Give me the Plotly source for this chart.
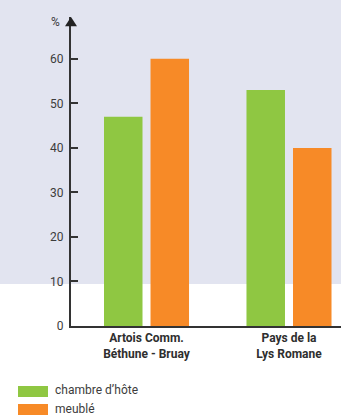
import plotly.graph_objects as go

# Data
categories = ["Artois Comm.<br>Béthune - Bruay", "Pays de la<br>Lys Romane"]
series_names = ["chambre d’hôte", "meublé"]
chambre_hote = [47, 53]
meuble = [60, 40]
y_ticks = [0, 10, 20, 30, 40, 50, 60]

GREEN = "#8fc742"
ORANGE = "#f78a27"
BAND = "#e2e4f0"
AXIS = "#333333"
TEXT = "#3c3c3c"
FONT = "Roboto"

W, H = 341, 415
M_L, M_R, M_T, M_B = 71, 0, 17, 89
PW, PH = W - M_L - M_R, H - M_T - M_B
Y_MAX = 69.4


def px_x(px):
    return (px - M_L) / PW


def px_y(px):
    return (H - M_B - px) / PH


fig = go.Figure()
fig.add_trace(go.Bar(x=categories, y=chambre_hote, name=series_names[0],
                     marker=dict(color=GREEN, line=dict(width=0))))
fig.add_trace(go.Bar(x=categories, y=meuble, name=series_names[1],
                     marker=dict(color=ORANGE, line=dict(width=0))))

shapes = [
    # light band behind the upper part of the chart
    dict(type="rect", xref="paper", yref="paper", layer="below",
         x0=px_x(0), x1=px_x(W), y0=px_y(284), y1=px_y(0),
         fillcolor=BAND, line=dict(width=0)),
    # arrow head on top of the value axis
    dict(type="path", xref="paper", yref="y", layer="above",
         path=f"M {px_x(65)} 67.3 L {px_x(77)} 67.3 L {px_x(71)} {Y_MAX} Z",
         fillcolor="#222222", line=dict(width=0)),
]

annotations = [
    dict(text="%", xref="paper", yref="paper", x=px_x(62), y=px_y(22),
         xanchor="right", yanchor="middle", showarrow=False,
         font=dict(family=FONT, size=12, color=TEXT)),
]

# legend drawn as wide swatches with labels
legend_rows = [(386, 397, GREEN), (404, 415, ORANGE)]
for name, (top, bottom, color) in zip(series_names, legend_rows):
    shapes.append(dict(type="rect", xref="paper", yref="paper",
                       x0=px_x(18), x1=px_x(48), y0=px_y(bottom), y1=px_y(top),
                       fillcolor=color, line=dict(width=0)))
    annotations.append(dict(text=name, xref="paper", yref="paper",
                            x=px_x(53), y=px_y((top + bottom) / 2 - 1),
                            xanchor="left", yanchor="middle", showarrow=False,
                            font=dict(family=FONT, size=12, color=TEXT)))

fig.update_layout(
    width=W, height=H,
    margin=dict(l=M_L, r=M_R, t=M_T, b=M_B, pad=0),
    paper_bgcolor="white", plot_bgcolor="rgba(0,0,0,0)",
    barmode="group", bargap=0.347, bargroupgap=0.172,
    showlegend=False,
    shapes=shapes, annotations=annotations,
    font=dict(family=FONT, color=TEXT),
    xaxis=dict(range=[-0.53, 1.365], showline=True, linecolor=AXIS, linewidth=2,
               ticks="", showgrid=False, zeroline=False, fixedrange=True,
               tickfont=dict(family=FONT, size=12, color="#2e2e2e", weight="bold")),
    yaxis=dict(range=[0, Y_MAX], showline=True, linecolor=AXIS, linewidth=2,
               tickvals=y_ticks, ticks="inside", ticklen=7, tickwidth=1.5,
               tickcolor=AXIS, showgrid=False, zeroline=False,
               ticklabelstandoff=3,
               tickfont=dict(family=FONT, size=12, color=TEXT)),
)

fig.write_html("out.html")
